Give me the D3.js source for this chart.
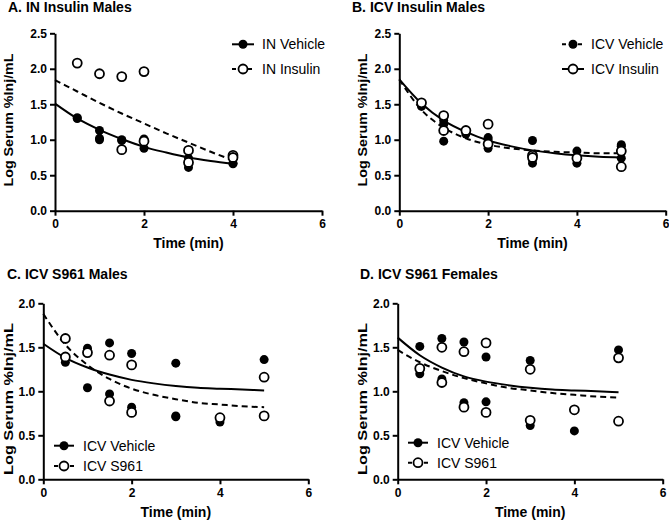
<!DOCTYPE html>
<html>
<head>
<meta charset="utf-8">
<script src="https://cdn.jsdelivr.net/npm/d3@7"></script>
<style>
  body { margin: 0; background: #fff; }
  svg { display: block; font-family: "Liberation Sans", Arial, sans-serif; }
  .axis path, .axis line { stroke: #000; stroke-width: 2; }
  .axis text { font-size: 12px; font-weight: bold; fill: #000; }
  .title, .axis-label { font-weight: bold; font-size: 14px; }
  .ylab { font-size: 13.5px; }
  .legend-text { font-size: 14px; }
</style>
</head>
<body>
<div id="chart"></div>
<script>
const width = 669;
const height = 521;

// tick values
const xTicks = [0, 2, 4, 6];
const yTicks25 = [0, 0.5, 1, 1.5, 2, 2.5];
const yTicks20 = [0, 0.5, 1, 1.5, 2];

// times at which the fitted curves were read
const fitTimes4 = [0, 0.5, 1, 1.5, 2, 2.5, 3, 3.5, 4];
const fitTimes5 = [0, 0.5, 1, 1.5, 2, 2.5, 3, 3.5, 4, 4.5, 5];

// A. IN Insulin Males
const aVehiclePts = [[0.5, 1.31], [0.5, 1.30], [1, 1.13], [1, 1.02], [1, 1.00], [1.5, 1.00], [1.5, 0.99],
  [2, 1.01], [2, 0.88], [3, 0.74], [3, 0.66], [3, 0.61], [4, 0.67], [4, 0.66]];
const aInsulinPts = [[0.5, 2.08], [1, 1.93], [1.5, 1.89], [1.5, 0.86], [2, 1.96], [2, 0.98],
  [3, 0.85], [3, 0.68], [4, 0.78], [4, 0.75]];
const aVehicleFit = [1.51, 1.30, 1.14, 1.01, 0.90, 0.82, 0.75, 0.70, 0.66];
const aInsulinFit = [1.84, 1.68, 1.52, 1.37, 1.23, 1.09, 0.96, 0.83, 0.71];

// B. ICV Insulin Males
const bVehiclePts = [[0.5, 1.47], [1, 1.27], [1, 1.22], [1, 0.98], [1.5, 1.08], [2, 1.03], [2, 1.00],
  [2, 0.96], [2, 0.88], [3, 0.99], [3, 0.72], [3, 0.67], [4, 0.84], [4, 0.67], [5, 0.93], [5, 0.91], [5, 0.74]];
const bInsulinPts = [[0.5, 1.52], [1, 1.34], [1, 1.13], [1.5, 1.13], [2, 1.22], [2, 0.94],
  [3, 0.78], [3, 0.75], [4, 0.74], [5, 0.84], [5, 0.62]];
const bVehicleFit = [1.85, 1.42, 1.17, 1.02, 0.93, 0.88, 0.85, 0.83, 0.82, 0.81, 0.81];
const bInsulinFit = [1.85, 1.51, 1.27, 1.11, 0.99, 0.91, 0.85, 0.81, 0.78, 0.76, 0.75];

// C. ICV S961 Males
const cVehiclePts = [[0.5, 1.33], [1, 1.49], [1, 1.04], [1.5, 1.55], [1.5, 0.97], [2, 1.43], [2, 0.82],
  [3, 1.32], [3, 0.72], [3, 0.71], [4, 0.65], [5, 1.36]];
const cS961Pts = [[0.5, 1.60], [0.5, 1.39], [1, 1.44], [1.5, 1.41], [1.5, 0.89], [2, 1.30], [2, 0.76],
  [4, 0.70], [5, 1.16], [5, 0.72]];
const cVehicleFit = [1.54, 1.38, 1.27, 1.19, 1.13, 1.09, 1.06, 1.04, 1.03, 1.02, 1.01];
const cS961Fit = [1.88, 1.53, 1.30, 1.14, 1.03, 0.96, 0.91, 0.87, 0.85, 0.83, 0.82];

// D. ICV S961 Females
const dVehiclePts = [[0.5, 1.51], [0.5, 1.20], [1, 1.60], [1, 1.14], [1.5, 1.56], [1.5, 0.87], [2, 1.39],
  [2, 0.88], [3, 1.35], [3, 0.61], [4, 0.55], [5, 1.47]];
const dS961Pts = [[0.5, 1.26], [1, 1.50], [1, 1.10], [1.5, 1.45], [1.5, 0.82], [2, 1.55], [2, 0.76],
  [3, 1.25], [3, 0.67], [4, 0.79], [5, 1.38], [5, 0.66]];
const dVehicleFit = [1.61, 1.41, 1.27, 1.17, 1.11, 1.07, 1.04, 1.02, 1.01, 1.00, 0.99];
const dS961Fit = [1.47, 1.33, 1.23, 1.15, 1.09, 1.04, 1.01, 0.98, 0.96, 0.94, 0.93];

const panels = [
  {
    title: "A. IN Insulin Males", titleX: 8, titleY: 12,
    left: 55, right: 322, top: 33.3, bottom: 210.7, yMax: 2.5, yTicks: yTicks25,
    ylabX: 13, ylabY: 120, ylabLen: 133, xlabY: 248,
    legend: { x1: 232, x2: 254, tx: 262, rows: [44.3, 69] },
    series: [
      { name: "IN Vehicle", pts: aVehiclePts, fitT: fitTimes4, fit: aVehicleFit, filled: true, dashed: false },
      { name: "IN Insulin", pts: aInsulinPts, fitT: fitTimes4, fit: aInsulinFit, filled: false, dashed: true },
    ],
  },
  {
    title: "B. ICV Insulin Males", titleX: 352, titleY: 12,
    left: 399.3, right: 665.7, top: 33.3, bottom: 210.7, yMax: 2.5, yTicks: yTicks25,
    ylabX: 367, ylabY: 120, ylabLen: 133, xlabY: 248,
    legend: { x1: 562, x2: 584, tx: 591, rows: [44.3, 69] },
    series: [
      { name: "ICV Vehicle", pts: bVehiclePts, fitT: fitTimes5, fit: bVehicleFit, filled: true, dashed: true },
      { name: "ICV Insulin", pts: bInsulinPts, fitT: fitTimes5, fit: bInsulinFit, filled: false, dashed: false },
    ],
  },
  {
    title: "C. ICV S961 Males", titleX: 7, titleY: 279,
    left: 43.3, right: 308.3, top: 303.3, bottom: 479.3, yMax: 2, yTicks: yTicks20,
    ylabX: 13, ylabY: 399, ylabLen: 152, xlabY: 517,
    legend: { x1: 54, x2: 74, tx: 83, rows: [445.7, 466] },
    series: [
      { name: "ICV Vehicle", pts: cVehiclePts, fitT: fitTimes5, fit: cVehicleFit, filled: true, dashed: false },
      { name: "ICV S961", pts: cS961Pts, fitT: fitTimes5, fit: cS961Fit, filled: false, dashed: true },
    ],
  },
  {
    title: "D. ICV S961 Females", titleX: 360, titleY: 279,
    left: 397.7, right: 662.7, top: 303.3, bottom: 479.3, yMax: 2, yTicks: yTicks20,
    ylabX: 367, ylabY: 399, ylabLen: 152, xlabY: 517,
    legend: { x1: 408, x2: 428, tx: 437, rows: [442.7, 462.7] },
    series: [
      { name: "ICV Vehicle", pts: dVehiclePts, fitT: fitTimes5, fit: dVehicleFit, filled: true, dashed: false },
      { name: "ICV S961", pts: dS961Pts, fitT: fitTimes5, fit: dS961Fit, filled: false, dashed: true },
    ],
  },
];

const R = 4.5;

const svg = d3.select("#chart")
  .append("svg")
  .attr("width", width)
  .attr("height", height);

function drawMarker(sel, filled) {
  sel.attr("r", R)
    .attr("fill", filled ? "#000" : "#fff")
    .attr("stroke", "#000")
    .attr("stroke-width", filled ? 0 : 1.8);
}

panels.forEach(p => {
  const x = d3.scaleLinear().domain([0, 6]).range([p.left, p.right]);
  const y = d3.scaleLinear().domain([0, p.yMax]).range([p.bottom, p.top]);
  const g = svg.append("g");

  g.append("text")
    .attr("class", "title")
    .attr("x", p.titleX)
    .attr("y", p.titleY)
    .text(p.title);

  g.append("g")
    .attr("class", "axis")
    .attr("transform", `translate(0,${p.bottom})`)
    .call(d3.axisBottom(x).tickValues(xTicks).tickFormat(d3.format("d")).tickSize(5).tickSizeOuter(0).tickPadding(4));

  g.append("g")
    .attr("class", "axis")
    .attr("transform", `translate(${p.left},0)`)
    .call(d3.axisLeft(y).tickValues(p.yTicks).tickFormat(d3.format(".1f")).tickSize(5).tickSizeOuter(0).tickPadding(3));

  g.append("text")
    .attr("class", "axis-label")
    .attr("text-anchor", "middle")
    .attr("x", (p.left + p.right) / 2)
    .attr("y", p.xlabY)
    .text("Time (min)");

  g.append("text")
    .attr("class", "axis-label ylab")
    .attr("text-anchor", "middle")
    .attr("transform", `translate(${p.ylabX},${p.ylabY}) rotate(-90)`)
    .attr("textLength", p.ylabLen)
    .attr("lengthAdjust", "spacingAndGlyphs")
    .text("Log Serum %Inj/mL");

  const line = d3.line()
    .x(d => x(d[0]))
    .y(d => y(d[1]))
    .curve(d3.curveMonotoneX);

  p.series.forEach(s => {
    g.append("path")
      .datum(s.fitT.map((t, i) => [t, s.fit[i]]))
      .attr("fill", "none")
      .attr("stroke", "#000")
      .attr("stroke-width", 2)
      .attr("stroke-dasharray", s.dashed ? "6,4" : null)
      .attr("d", line);
  });

  p.series.forEach(s => {
    g.selectAll(null)
      .data(s.pts)
      .join("circle")
      .attr("cx", d => x(d[0]))
      .attr("cy", d => y(d[1]))
      .call(drawMarker, s.filled);
  });

  // legend
  p.series.forEach((s, i) => {
    const ly = p.legend.rows[i];
    g.append("line")
      .attr("x1", p.legend.x1)
      .attr("x2", p.legend.x2)
      .attr("y1", ly)
      .attr("y2", ly)
      .attr("stroke", "#000")
      .attr("stroke-width", 2)
      .attr("stroke-dasharray", s.dashed ? "4,4" : null);
    g.append("circle")
      .attr("cx", (p.legend.x1 + p.legend.x2) / 2)
      .attr("cy", ly)
      .call(drawMarker, s.filled);
    g.append("text")
      .attr("class", "legend-text")
      .attr("x", p.legend.tx)
      .attr("y", ly)
      .attr("dy", "0.36em")
      .text(s.name);
  });
});
</script>
</body>
</html>
